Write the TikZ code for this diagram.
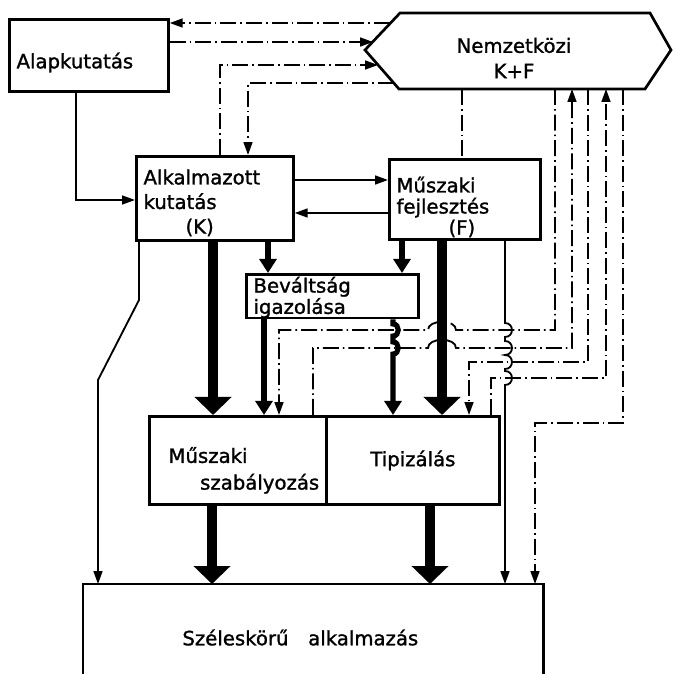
\documentclass[tikz,border=0pt]{standalone}
\usepackage{fontspec}
\setmainfont{DejaVu Sans}[FakeBold=1.3]
\usetikzlibrary{arrows.meta,positioning,calc}

\begin{document}
\begin{tikzpicture}[
    x=0.025cm, y=-0.025cm,
    every node/.style={font=\fontsize{14}{17.5}\selectfont},
    box/.style={rectangle, draw, line width=1.9pt, align=left, inner xsep=0.18cm, inner ysep=0pt, anchor=north west},
    flowline/.style={line width=1.3pt, -{Triangle[width=0.22cm,length=0.32cm]}},
    dashdot/.style={line width=1.3pt, dash pattern=on 0.4cm off 0.1cm on 0.04cm off 0.1cm},
    ddarrow/.style={dashdot, -{Triangle[width=0.22cm,length=0.32cm]}},
    medarrow/.style={line width=3.6pt, -{Triangle[width=0.42cm,length=0.35cm]}},
    bigarrow/.style={line width=7pt, -{Triangle[width=0.9cm,length=0.45cm]}}
]
    \useasboundingbox (0,0) rectangle (672,674);

    % boxes
    \node[box, minimum width=3.975cm, minimum height=1.8cm, text height=0.65cm, text depth=0pt] (alap) at (8,18) {Alapkutatás\hspace*{0.7cm}};
    \node[box, text width=3.565cm, minimum height=2.1cm] (K) at (135,155) {\rule{0pt}{17pt}Alkalmazott\\kutatás\\\hspace*{1.05cm}(K)};
    \node[box, text width=3.415cm, minimum height=2.0cm, font=\fontsize{14}{15}\selectfont] (F) at (388,158) {\rule{0pt}{22pt}Műszaki\\fejlesztés\\\hspace*{1.3cm}(F)};
    \node[box, text width=3.94cm, minimum height=1.075cm, font=\fontsize{14}{13.5}\selectfont] (bev) at (245,273) {\rule{0pt}{13pt}Beváltság\\igazolása};
    \node[box, text width=4.065cm, minimum height=2.2cm] (msz) at (148,415) {\rule{0pt}{25.5pt}\hspace*{0.3cm}Műszaki\\[1.5pt]\hspace*{\fill}szabályozás};
    \node[box, text width=3.965cm, minimum height=2.2cm, align=center] (tip) at (325,415) {Tipizálás\hspace*{0.8cm}};
    \node[anchor=north west, minimum width=11.5cm, minimum height=2.25cm, inner sep=0pt, text height=0.8cm, text depth=0pt] (sz) at (83,584) {Széleskörű\quad alkalmazás\hspace*{0.65cm}};
    \draw[line width=1.9pt] (sz.south west) -- (sz.north west) -- (sz.north east) -- (sz.south east);

    % Nemzetkozi K+F
    \draw[line width=1.9pt] (365,50) -- (400,13) -- (650,13) -- (671,50) -- (645,89) -- (399,89) -- cycle;
    \node[align=center, font=\fontsize{14}{18}\selectfont] (nk) at (514,58) {Nemzetközi\\K+F};
    \coordinate (nkA) at (390,23);
    \coordinate (nkB) at (373,42);
    \coordinate (nkC) at (378,65);
    \coordinate (nkD) at (394,83);
    \coordinate (nkS) at (0,89);

    % dash-dot links
    \draw[ddarrow] (nkA) -- (nkA -| alap.east);
    \draw[ddarrow] (nkB -| alap.east) -- (nkB);
    \draw[ddarrow] (220,0 |- K.north) |- (nkC);
    \draw[ddarrow] (nkD) -| (248,0 |- K.north);
    \draw[dashdot] (462,0 |- nkS) -- (462,0 |- F.north);
    \draw[ddarrow] (555,0 |- nkS) |- (456,330) to[out=90,in=90] (428,330) -| (279,0 |- msz.north);
    \draw[ddarrow] (313,0 |- msz.north) |- (428,348) to[out=90,in=90] (456,348) -| (572,0 |- nkS);
    \draw[ddarrow] (588,0 |- nkS) |- (469,362) -- (469,0 |- tip.north);
    \draw[ddarrow] (491,0 |- tip.north) |- (606,378) -- (606,0 |- nkS);
    \draw[ddarrow] (623,0 |- nkS) |- (535,423) -- (535,0 |- sz.north);

    % solid links
    \draw[flowline] (76,0 |- alap.south) |- (0,200 -| K.west);
    \draw[flowline] (0,180 -| K.east) -- (0,180 -| F.west);
    \draw[flowline] (0,213 -| F.west) -- (0,213 -| K.east);
    \draw[flowline] (139,0 |- K.south) -- (139,300) -- (98,380) -- (98,0 |- sz.north);
    \draw[flowline] (505,0 |- F.south) -- (505,323)
        to[out=0,in=0,looseness=1.7] (505,337) -- (505,341)
        to[out=0,in=0,looseness=1.7] (505,355)
        to[out=0,in=0,looseness=1.7] (505,369) -- (505,371)
        to[out=0,in=0,looseness=1.7] (505,385) -- (505,0 |- sz.north);

    \draw[medarrow] (268,0 |- K.south) -- (268,0 |- bev.north);
    \draw[medarrow] (402,0 |- F.south) -- (402,0 |- bev.north);
    \draw[medarrow] (264,0 |- bev.south) -- (264,0 |- msz.north);
    \draw[medarrow] (393,0 |- bev.south) -- (393,324)
        to[out=0,in=0,looseness=1.5] (393,336) -- (393,342)
        to[out=0,in=0,looseness=1.5] (393,354) -- (393,0 |- tip.north);

    \draw[bigarrow] (213,0 |- K.south) -- (213,0 |- msz.north);
    \draw[bigarrow] (442,0 |- F.south) -- (442,0 |- tip.north);
    \draw[bigarrow] (212,0 |- msz.south) -- (212,0 |- sz.north);
    \draw[bigarrow] (430,0 |- tip.south) -- (430,0 |- sz.north);
\end{tikzpicture}
\end{document}
